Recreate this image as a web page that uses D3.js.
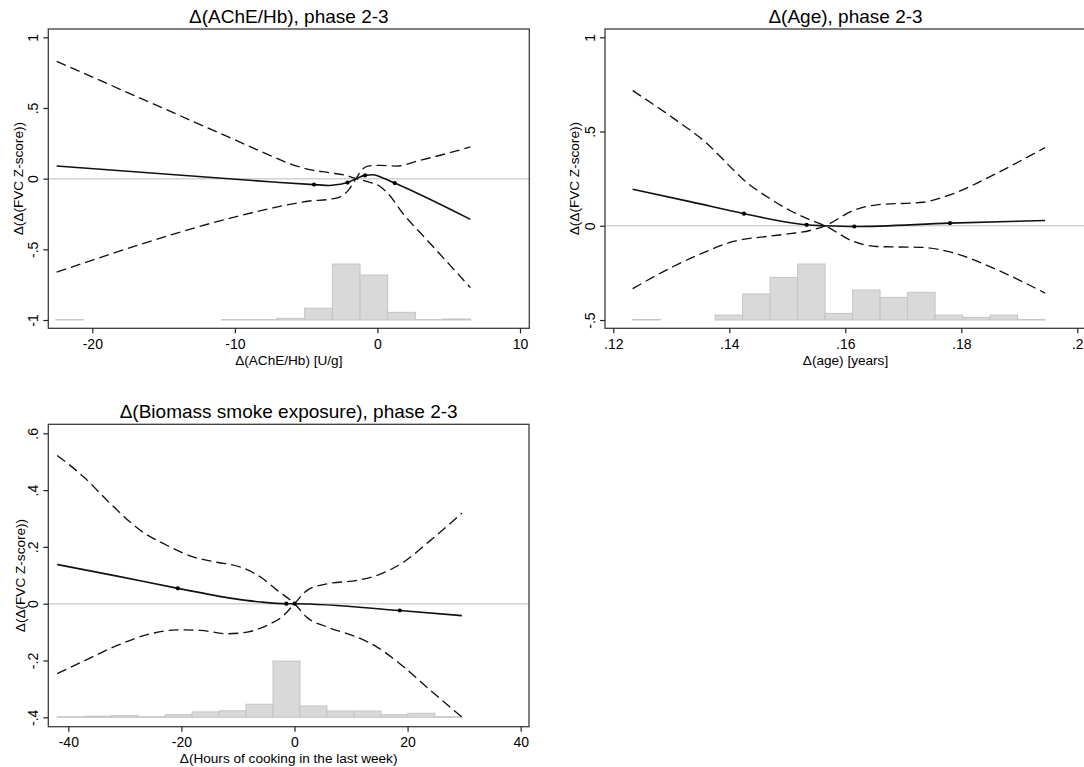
<!DOCTYPE html>
<html><head><meta charset="utf-8">
<script src="https://cdn.jsdelivr.net/npm/d3@7"></script>
<style>
body{margin:0;background:#fff}
svg{display:block}
text{font-family:"Liberation Sans",Arial,Helvetica,sans-serif;fill:#000}
</style>
</head><body>
<svg id="chart" width="1084" height="767"></svg>
<script>
// ---------------- DATA ----------------
// Panel 1: Δ(AChE/Hb)
const p1Title = "Δ(AChE/Hb), phase 2-3";
const p1XLabel = "Δ(AChE/Hb) [U/g]";
const p1XTicks = [-20, -10, 0, 10];
const p1XTickLabels = ["-20", "-10", "0", "10"];
const p1YTicks = [-1, -0.5, 0, 0.5, 1];
const p1YTickLabels = ["-1", "-.5", "0", ".5", "1"];
const p1EstX = [-22.5, -7.55, -4.45, -3.35, -2.64, -2.10, -1.5, -0.87, -0.31, 0.39, 1.21, 6.52];
const p1Est  = [0.089, -0.022, -0.042, -0.048, -0.040, -0.028, 0.0, 0.023, 0.028, 0.004, -0.031, -0.288];
const p1Ci1X = [-22.5, -10.13, -7.55, -6.15, -4.75, -3.35, -2.17, -1.5, -0.54, 0.16, 0.75, 1.80, 3.44, 5.07, 6.52];
const p1Ci1  = [0.83, 0.28, 0.165, 0.106, 0.064, 0.042, 0.022, 0.0, -0.026, -0.054, -0.106, -0.248, -0.430, -0.610, -0.771];
const p1Ci2X = [-22.5, -7.55, -6.15, -4.75, -3.35, -2.64, -2.05, -1.5, -1.12, -0.66, 0.16, 1.33, 2.97, 4.84, 6.52];
const p1Ci2  = [-0.661, -0.212, -0.182, -0.158, -0.146, -0.130, -0.083, 0.0, 0.059, 0.089, 0.094, 0.089, 0.129, 0.177, 0.224];
const p1KnotX = [-4.45, -2.10, -0.87, 1.21];
const p1KnotY = [-0.042, -0.028, 0.023, -0.031];
const p1BinLo = [-22.56, -10.92, -8.98, -7.04, -5.10, -3.16, -1.22, 0.72, 2.66, 4.60];
const p1BinHi = [-20.62, -8.98, -7.04, -5.10, -3.16, -1.22, 0.72, 2.66, 4.60, 6.54];
const p1BinH  = [0.003, 0.003, 0.003, 0.012, 0.083, 0.396, 0.318, 0.054, 0.003, 0.007];
const p1Base = -1;

// Panel 2: Δ(Age)
const p2Title = "Δ(Age), phase 2-3";
const p2XLabel = "Δ(age) [years]";
const p2XTicks = [0.12, 0.14, 0.16, 0.18, 0.2];
const p2XTickLabels = [".12", ".14", ".16", ".18", ".2"];
const p2YTicks = [-0.5, 0, 0.5, 1];
const p2YTickLabels = ["-.5", "0", ".5", "1"];
const p2EstX = [0.12334, 0.13322, 0.14253, 0.14759, 0.15334, 0.1565, 0.16155, 0.17805, 0.19444];
const p2Est  = [0.194, 0.128, 0.064, 0.032, 0.005, 0.0, -0.004, 0.014, 0.028];
const p2Ci1X = [0.12334, 0.13034, 0.1361, 0.14069, 0.1430, 0.14645, 0.15047, 0.15391, 0.1565, 0.16138, 0.16541, 0.17345, 0.17805, 0.18611, 0.19444];
const p2Ci1  = [0.717, 0.571, 0.438, 0.297, 0.230, 0.155, 0.081, 0.032, 0.0, -0.083, -0.110, -0.115, -0.139, -0.233, -0.357];
const p2Ci2X = [0.12334, 0.13034, 0.1361, 0.14069, 0.14645, 0.15047, 0.15391, 0.1565, 0.16138, 0.16541, 0.17345, 0.17805, 0.18611, 0.19444];
const p2Ci2  = [-0.334, -0.216, -0.136, -0.083, -0.057, -0.042, -0.025, 0.0, 0.081, 0.111, 0.125, 0.164, 0.279, 0.415];
const p2KnotX = [0.14253, 0.15334, 0.16155, 0.17805];
const p2KnotY = [0.064, 0.005, -0.004, 0.014];
const p2BinLo = [0.12334, 0.13756, 0.14230, 0.14704, 0.15178, 0.15652, 0.16126, 0.16600, 0.17074, 0.17548, 0.18022, 0.18496, 0.18970];
const p2BinHi = [0.12808, 0.14230, 0.14704, 0.15178, 0.15652, 0.16126, 0.16600, 0.17074, 0.17548, 0.18022, 0.18496, 0.18970, 0.19444];
const p2BinH  = [0.003, 0.026, 0.138, 0.226, 0.297, 0.035, 0.159, 0.120, 0.147, 0.026, 0.014, 0.026, 0.003];
const p2Base = -0.5;

// Panel 3: Δ(Biomass smoke exposure)
const p3Title = "Δ(Biomass smoke exposure), phase 2-3";
const p3XLabel = "Δ(Hours of cooking in the last week)";
const p3XTicks = [-40, -20, 0, 20, 40];
const p3XTickLabels = ["-40", "-20", "0", "20", "40"];
const p3YTicks = [-0.4, -0.2, 0, 0.2, 0.4, 0.6];
const p3YTickLabels = ["-.4", "-.2", "0", ".2", ".4", ".6"];
const p3EstX = [-41.96, -31.36, -20.63, -10.73, -6.0, -1.45, 0, 18.62, 29.6];
const p3Est  = [0.138, 0.097, 0.054, 0.018, 0.006, 0.0, 0.0, -0.024, -0.042];
const p3Ci1X = [-41.96, -37.26, -32.54, -27.23, -22.51, -17.8, -13.67, -9.55, -6.01, -3.06, 0, 2.24, 5.78, 11.09, 14.62, 19.33, 24.05, 29.6];
const p3Ci1  = [0.522, 0.446, 0.352, 0.258, 0.205, 0.164, 0.146, 0.129, 0.094, 0.047, 0.0, -0.049, -0.082, -0.118, -0.153, -0.223, -0.305, -0.399];
const p3Ci2X = [-41.96, -37.26, -31.36, -25.46, -20.74, -16.62, -11.9, -8.36, -4.83, -1.89, 0, 2.24, 5.78, 11.09, 14.62, 19.33, 24.05, 29.6];
const p3Ci2  = [-0.246, -0.202, -0.147, -0.106, -0.092, -0.094, -0.106, -0.100, -0.076, -0.041, 0.0, 0.047, 0.070, 0.082, 0.100, 0.147, 0.223, 0.319];
const p3KnotX = [-20.63, -1.45, 0, 18.62];
const p3KnotY = [0.054, 0.0, 0.0, -0.024];
const p3BinLo = [-41.96, -37.19, -32.42, -27.65, -22.88, -18.11, -13.34, -8.57, -3.80, 0.97, 5.74, 10.51, 15.28, 20.05, 24.82];
const p3BinHi = [-37.19, -32.42, -27.65, -22.88, -18.11, -13.34, -8.57, -3.80, 0.97, 5.74, 10.51, 15.28, 20.05, 24.82, 29.59];
const p3BinH  = [0.002, 0.004, 0.006, 0.002, 0.0094, 0.019, 0.023, 0.046, 0.198, 0.040, 0.022, 0.022, 0.0094, 0.014, 0.002];
const p3Base = -0.4;

const yAxisTitle = "Δ(Δ(FVC Z-score))";

// ---------------- LAYOUT ----------------
const panels = [
  {title:p1Title, xLabel:p1XLabel, xTicks:p1XTicks, xTickLabels:p1XTickLabels, yTicks:p1YTicks, yTickLabels:p1YTickLabels,
   estX:p1EstX, est:p1Est, ci1X:p1Ci1X, ci1:p1Ci1, ci2X:p1Ci2X, ci2:p1Ci2, knotX:p1KnotX, knotY:p1KnotY,
   binLo:p1BinLo, binHi:p1BinHi, binH:p1BinH, base:p1Base,
   box:{l:48.3, t:29, r:529.3, b:328.3}, xDom:[-23.086, 10.652], yDom:[-1.0587, 1.0587], yTitleX:22.5},
  {title:p2Title, xLabel:p2XLabel, xTicks:p2XTicks, xTickLabels:p2XTickLabels, yTicks:p2YTicks, yTickLabels:p2YTickLabels,
   estX:p2EstX, est:p2Est, ci1X:p2Ci1X, ci1:p2Ci1, ci2X:p2Ci2X, ci2:p2Ci2, knotX:p2KnotX, knotY:p2KnotY,
   binLo:p2BinLo, binHi:p2BinHi, binH:p2BinH, base:p2Base,
   box:{l:605, t:29, r:1086, b:328.3}, xDom:[0.118569, 0.2015], yDom:[-0.544, 1.044], yTitleX:579},
  {title:p3Title, xLabel:p3XLabel, xTicks:p3XTicks, xTickLabels:p3XTickLabels, yTicks:p3YTicks, yTickLabels:p3YTickLabels,
   estX:p3EstX, est:p3Est, ci1X:p3Ci1X, ci1:p3Ci1, ci2X:p3Ci2X, ci2:p3Ci2, knotX:p3KnotX, knotY:p3KnotY,
   binLo:p3BinLo, binHi:p3BinHi, binH:p3BinH, base:p3Base,
   box:{l:48.3, t:424.3, r:529, b:726.7}, xDom:[-43.537, 41.472], yDom:[-0.4331, 0.6317], yTitleX:25}
];

const svg = d3.select("#chart");

function drawPanel(p) {
  const B = p.box;
  const x = d3.scaleLinear().domain(p.xDom).range([B.l, B.r]);
  const y = d3.scaleLinear().domain(p.yDom).range([B.b, B.t]);
  const g = svg.append("g");

  // histogram
  g.append("g").selectAll("rect").data(p.binH).join("rect")
    .attr("x", (d,i) => x(p.binLo[i]))
    .attr("width", (d,i) => x(p.binHi[i]) - x(p.binLo[i]))
    .attr("y", d => y(p.base + d))
    .attr("height", d => y(p.base) - y(p.base + d))
    .attr("fill", "#d9d9d9")
    .attr("stroke", "#c4c4c4")
    .attr("stroke-width", 1);

  // zero reference line
  g.append("line")
    .attr("x1", B.l).attr("x2", B.r)
    .attr("y1", y(0)).attr("y2", y(0))
    .attr("stroke", "#d2d2d2").attr("stroke-width", 1.5);

  const line = d3.line().x(d => x(d[0])).y(d => y(d[1])).curve(d3.curveMonotoneX);

  // CI lines
  [[p.ci1X, p.ci1], [p.ci2X, p.ci2]].forEach(([xs, ys]) => {
    g.append("path")
      .attr("d", line(xs.map((v,i) => [v, ys[i]])))
      .attr("fill", "none").attr("stroke", "#111")
      .attr("stroke-width", 1.35).attr("stroke-dasharray", "10,5");
  });

  // estimate
  g.append("path")
    .attr("d", line(p.estX.map((v,i) => [v, p.est[i]])))
    .attr("fill", "none").attr("stroke", "#111").attr("stroke-width", 1.6);

  // knots
  g.append("g").selectAll("circle").data(p.knotX).join("circle")
    .attr("cx", d => x(d)).attr("cy", (d,i) => y(p.knotY[i]))
    .attr("r", 2.1).attr("fill", "#000");

  // frame
  g.append("rect")
    .attr("x", B.l).attr("y", B.t)
    .attr("width", B.r - B.l).attr("height", B.b - B.t)
    .attr("fill", "none").attr("stroke", "#3c3c3c").attr("stroke-width", 1.3);

  // x axis
  const xa = g.append("g").attr("transform", `translate(0,${B.b})`)
    .call(d3.axisBottom(x).tickValues(p.xTicks).tickFormat((d,i) => p.xTickLabels[i]).tickSize(5).tickSizeOuter(0));
  xa.select(".domain").remove();
  xa.selectAll(".tick line").attr("stroke", "#222").attr("stroke-width", 1.2);
  xa.selectAll(".tick text").attr("y", 20.8).attr("dy", 0)
    .style("font-size", "14px").style("font-family", '"Liberation Sans",Arial,sans-serif').attr("fill", "#000");

  // y axis
  const ya = g.append("g").attr("transform", `translate(${B.l},0)`)
    .call(d3.axisLeft(y).tickValues(p.yTicks).tickFormat((d,i) => p.yTickLabels[i]).tickSize(5).tickSizeOuter(0));
  ya.select(".domain").remove();
  ya.selectAll(".tick line").attr("stroke", "#222").attr("stroke-width", 1.2);
  ya.selectAll(".tick text")
    .attr("transform", "rotate(-90)")
    .attr("x", 0).attr("y", -10).attr("dy", 0)
    .attr("text-anchor", "middle")
    .style("font-size", "14px").style("font-family", '"Liberation Sans",Arial,sans-serif').attr("fill", "#000");

  // titles
  g.append("text")
    .attr("x", (B.l + B.r) / 2).attr("y", B.t - 6.5)
    .attr("text-anchor", "middle").style("font-size", "19px")
    .text(p.title);
  g.append("text")
    .attr("x", (B.l + B.r) / 2).attr("y", B.b + 36.5)
    .attr("text-anchor", "middle").style("font-size", "13.6px")
    .text(p.xLabel);
  g.append("text")
    .attr("transform", `translate(${p.yTitleX},${(B.t + B.b) / 2}) rotate(-90)`)
    .attr("text-anchor", "middle").style("font-size", "13.6px")
    .text(yAxisTitle);
}

panels.forEach(drawPanel);
</script>
</body></html>
